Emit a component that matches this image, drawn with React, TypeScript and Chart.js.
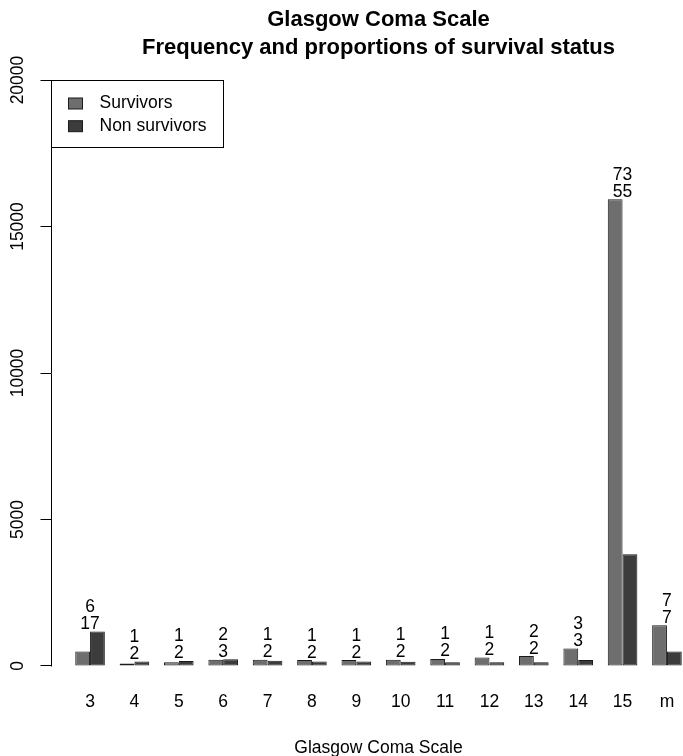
import React, { useEffect, useRef } from 'react';
import { Chart, registerables } from 'chart.js';

Chart.register(...registerables);

const categories = ['3', '4', '5', '6', '7', '8', '9', '10', '11', '12', '13', '14', '15', 'm'];
const survivors = [490, 80, 130, 215, 215, 200, 200, 215, 240, 285, 340, 600, 15930, 1390];
const nonSurvivors = [1180, 150, 170, 230, 180, 150, 150, 140, 130, 130, 130, 200, 3810, 490];
const upperLabels = ['6', '1', '1', '2', '1', '1', '1', '1', '1', '1', '2', '3', '73', '7'];
const lowerLabels = ['17', '2', '2', '3', '2', '2', '2', '2', '2', '2', '2', '3', '55', '7'];
const yTicks = [0, 5000, 10000, 15000, 20000];
const seriesNames = ['Survivors', 'Non survivors'];
const titleLines = ['Glasgow Coma Scale', 'Frequency and proportions of survival status'];
const xTitle = 'Glasgow Coma Scale';

const FONT = '"Liberation Sans", Arial, Helvetica, sans-serif';
const SURV = '#6e6e6e';
const NONS = '#3c3c3c';
const EDGE = '#1a1a1a';
const FS = 17.5;

const annotPlugin = {
  id: 'annot',
  afterDatasetsDraw(chart: any) {
    const { ctx, scales } = chart;
    const x = scales.x;
    const y = scales.y;
    ctx.save();
    ctx.strokeStyle = '#000';
    ctx.lineWidth = 1;
    const ax = Math.floor(y.right) + 0.5;
    ctx.beginPath();
    ctx.moveTo(ax, Math.round(y.getPixelForValue(yTicks[0])) + 0.5);
    ctx.lineTo(ax, Math.round(y.getPixelForValue(yTicks[yTicks.length - 1])) + 0.5);
    ctx.stroke();

    ctx.fillStyle = '#000';
    ctx.font = `${FS}px ${FONT}`;
    ctx.textAlign = 'center';
    ctx.textBaseline = 'alphabetic';
    categories.forEach((_, i) => {
      const px = x.getPixelForValue(i);
      const top = y.getPixelForValue(Math.max(survivors[i], nonSurvivors[i]));
      ctx.fillText(lowerLabels[i], px, top - 2.5);
      ctx.fillText(upperLabels[i], px, top - 19.5);
    });
    ctx.restore();
  },
  afterDraw(chart: any) {
    const { ctx, chartArea, scales } = chart;
    const y = scales.y;
    const left = Math.floor(chartArea.left) + 0.5;
    const top = Math.round(y.getPixelForValue(yTicks[yTicks.length - 1])) + 0.5;
    const w = 172;
    const h = 67;
    ctx.save();
    ctx.fillStyle = '#fff';
    ctx.fillRect(left, top, w, h);
    ctx.strokeStyle = '#000';
    ctx.lineWidth = 1;
    ctx.strokeRect(left, top, w, h);
    const colors = [SURV, NONS];
    ctx.font = `${FS}px ${FONT}`;
    ctx.textAlign = 'left';
    ctx.textBaseline = 'middle';
    seriesNames.forEach((name, i) => {
      const cy = top + 23 + i * 22.7;
      ctx.fillStyle = colors[i];
      ctx.fillRect(left + 17, cy - 5.5, 14, 11);
      ctx.strokeStyle = EDGE;
      ctx.strokeRect(left + 17, cy - 5.5, 14, 11);
      ctx.fillStyle = '#000';
      ctx.fillText(name, left + 48, cy);
    });
    ctx.restore();
  },
};

export default function App() {
  const ref = useRef<HTMLCanvasElement | null>(null);

  useEffect(() => {
    if (!ref.current) return;
    Chart.defaults.font.family = FONT;
    Chart.defaults.color = '#000';
    const chart = new Chart(ref.current, {
      type: 'bar',
      data: {
        datasets: [
          {
            label: seriesNames[0],
            data: survivors.map((v, i) => ({ x: i, y: v })),
            backgroundColor: SURV,
            borderColor: EDGE,
            borderWidth: 1,
            borderSkipped: false,
            categoryPercentage: 2 / 3,
            barPercentage: 1,
          },
          {
            label: seriesNames[1],
            data: nonSurvivors.map((v, i) => ({ x: i, y: v })),
            backgroundColor: NONS,
            borderColor: EDGE,
            borderWidth: 1,
            borderSkipped: false,
            categoryPercentage: 2 / 3,
            barPercentage: 1,
          },
        ],
      } as any,
      options: {
        responsive: false,
        animation: false,
        layout: { padding: 0 },
        plugins: {
          legend: { display: false },
          tooltip: { enabled: false },
          title: {
            display: true,
            text: titleLines,
            fullSize: false,
            color: '#000',
            font: { family: FONT, size: 22, weight: 'bold', lineHeight: 1.25 },
            padding: { top: 6.25, bottom: -4.65 },
          },
        },
        scales: {
          x: {
            type: 'linear',
            min: -0.88,
            max: 13.88,
            offset: false,
            grid: { display: false, drawTicks: false },
            border: { display: false },
            afterBuildTicks: (s: any) => {
              s.ticks = categories.map((_, i) => ({ value: i }));
            },
            afterFit: (s: any) => {
              s.height = 66.6;
            },
            ticks: {
              autoSkip: false,
              maxRotation: 0,
              minRotation: 0,
              padding: 2.6,
              color: '#000',
              font: { family: FONT, size: FS },
              callback: (v: any) => categories[v] ?? '',
            },
            title: {
              display: true,
              text: xTitle,
              color: '#000',
              font: { family: FONT, size: FS, lineHeight: 1 },
              padding: { top: 0, bottom: -1 },
            },
          },
          y: {
            type: 'linear',
            min: -800,
            max: 20800,
            grid: {
              display: true,
              drawOnChartArea: false,
              drawTicks: true,
              tickLength: 10.5,
              color: '#000',
              lineWidth: 1,
            },
            border: { display: false },
            afterBuildTicks: (s: any) => {
              s.ticks = yTicks.map((v) => ({ value: v }));
            },
            afterFit: (s: any) => {
              s.width = 51;
            },
            ticks: {
              minRotation: 90,
              maxRotation: 90,
              crossAlign: 'center',
              padding: -2.3,
              color: '#000',
              font: { family: FONT, size: FS },
              callback: (v: any) => String(v),
            },
          },
        },
      } as any,
      plugins: [annotPlugin],
    });
    return () => chart.destroy();
  }, []);

  return (
    <div
      style={{
        position: 'absolute',
        left: 0,
        top: 0,
        width: 683,
        height: 756,
        overflow: 'hidden',
        background: '#fff',
      }}
    >
      <canvas ref={ref} width={706} height={756} style={{ display: 'block', width: 706, height: 756 }} />
    </div>
  );
}
